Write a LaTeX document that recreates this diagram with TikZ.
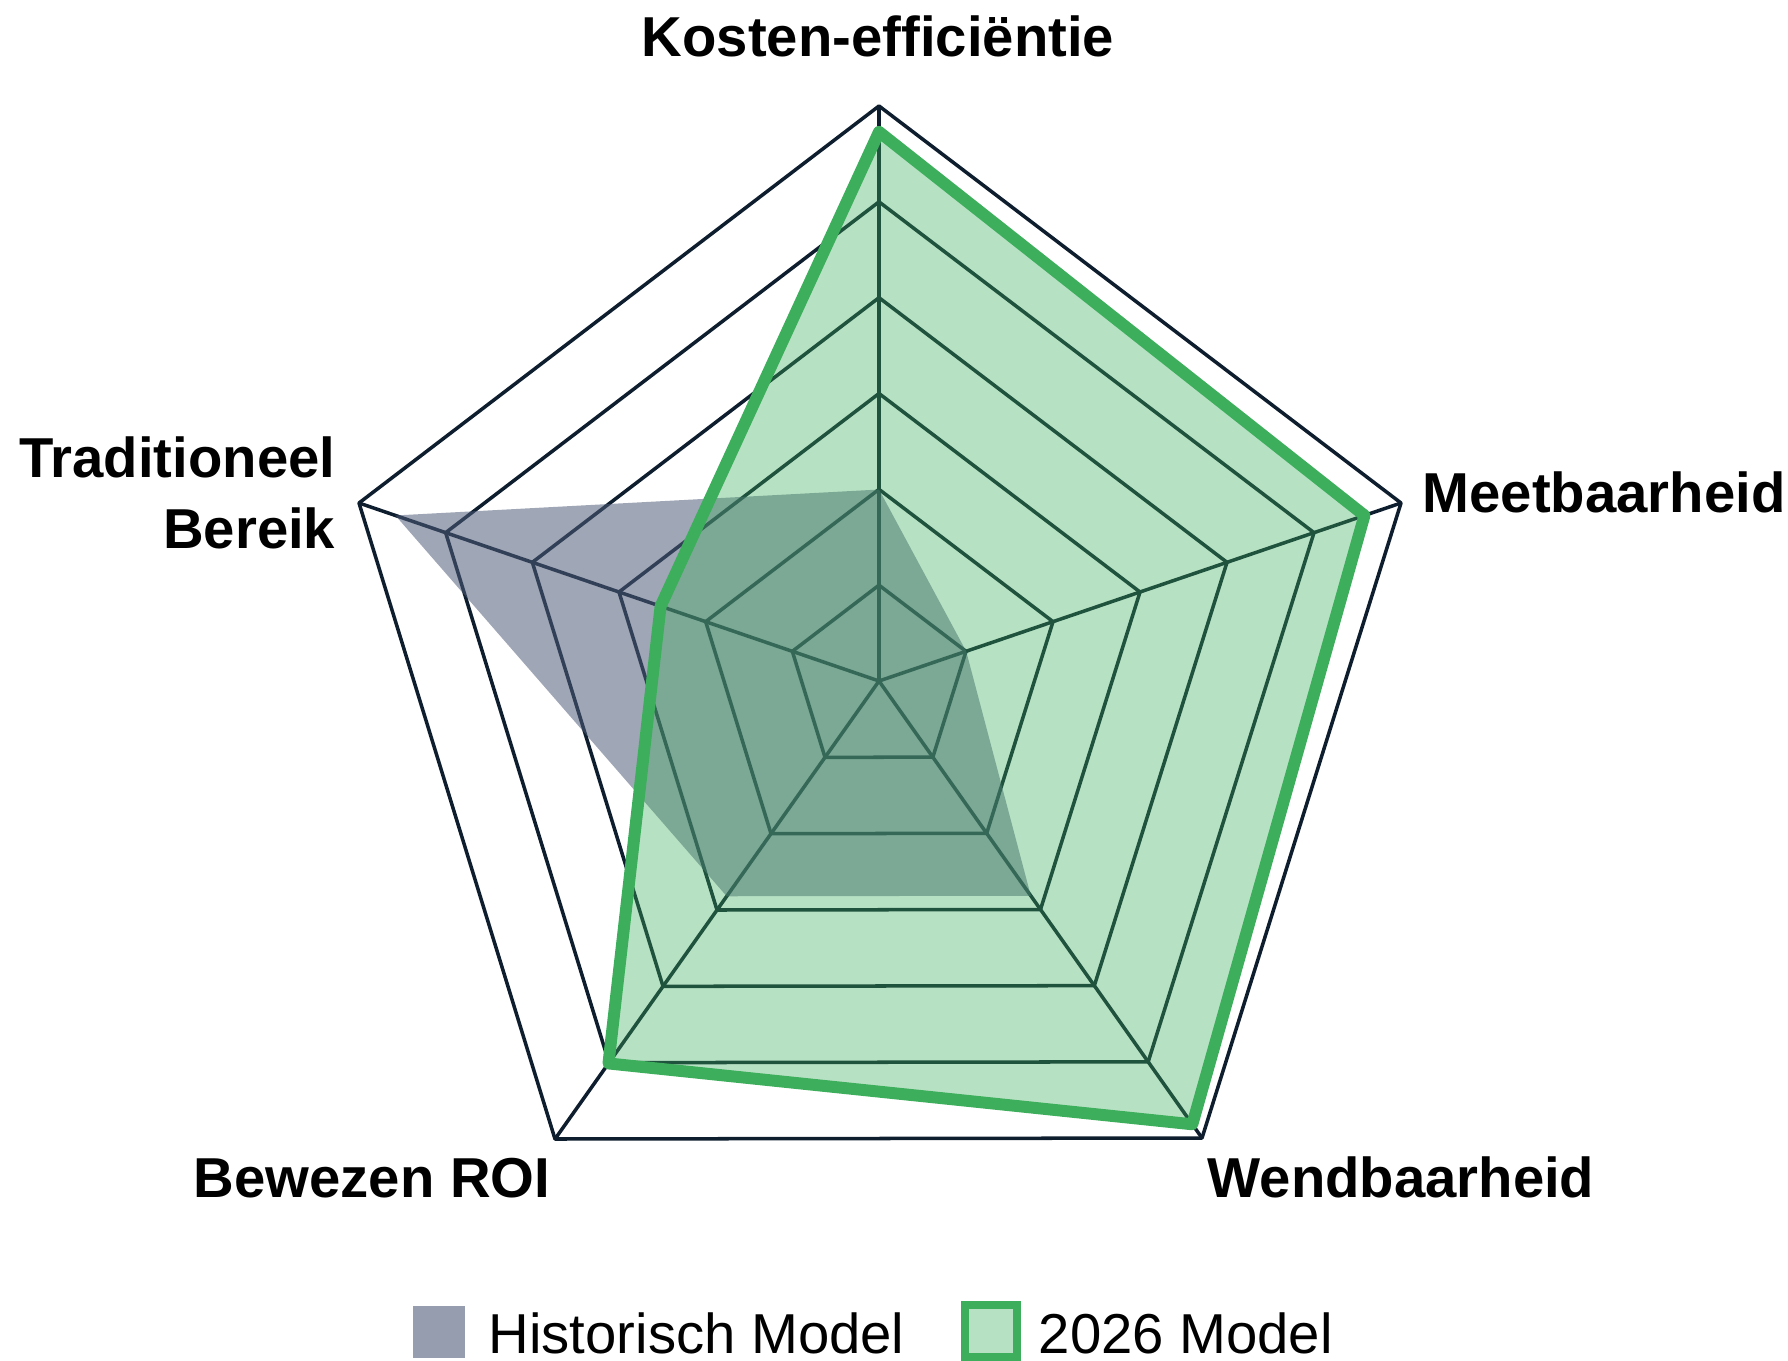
\documentclass[tikz,border=0pt]{standalone}
\usepackage{fontspec}
\setmainfont{Liberation Sans}
\usetikzlibrary{calc}

\definecolor{gridline}{HTML}{0E1E2E}
\definecolor{histfill}{HTML}{505C7A}
\definecolor{newgreen}{HTML}{3DAE5C}

\tikzset{
	axislabel/.style={font=\bfseries\fontsize{16}{20}\selectfont, inner sep=0pt},
	legendtext/.style={font=\fontsize{16}{20}\selectfont, inner sep=0pt},
	gridring/.style={draw=gridline, line width=1pt, line join=round},
	histarea/.style={fill=histfill, fill opacity=0.55},
	newarea/.style={fill=newgreen, fill opacity=0.37, draw=newgreen, line width=3.4pt, line join=round},
}

\begin{document}
\begin{tikzpicture}[x=0.01cm,y=-0.01cm]
	\useasboundingbox (0,0) rectangle (1788,1361);

	\coordinate (o) at (879,681);
	\coordinate (k) at (879,106);
	\coordinate (m) at (1401,503);
	\coordinate (w) at (1202,1138);
	\coordinate (r) at (555,1139);
	\coordinate (t) at (359,503);

	% grid
	\foreach \i in {1,...,6}
		\draw[gridring] ($(o)!\i/6!(k)$) -- ($(o)!\i/6!(m)$) -- ($(o)!\i/6!(w)$)
			-- ($(o)!\i/6!(r)$) -- ($(o)!\i/6!(t)$) -- cycle;
	\foreach \p in {k,m,w,r,t}
		\draw[gridring] (o) -- (\p);

	% historisch model
	\fill[histarea] ($(o)!0.333!(k)$) -- ($(o)!0.167!(m)$) -- ($(o)!0.47!(w)$)
		-- ($(o)!0.47!(r)$) -- ($(o)!0.93!(t)$) -- cycle;

	% 2026 model
	\filldraw[newarea] ($(o)!0.955!(k)$) -- ($(o)!0.93!(m)$) -- ($(o)!0.97!(w)$)
		-- ($(o)!0.835!(r)$) -- ($(o)!0.42!(t)$) -- cycle;

	\node[axislabel, anchor=base] (kosten) at (878,57) {Kosten-efficiëntie};
	\node[axislabel, anchor=base west] (meet) at (1422,512) {Meetbaarheid};
	\node[axislabel, anchor=base] (wend) at (1401,1197) {Wendbaarheid};
	\node[axislabel, anchor=base] (roi) at (372,1197) {Bewezen ROI};
	\node[axislabel, anchor=base east] (trad) at (336,478) {Traditioneel};
	\node[axislabel, anchor=base east] (bereik) at (336,548) {Bereik};

	% legenda
	\node[fill=histfill, fill opacity=0.6, minimum size=0.52cm, inner sep=0pt] (histsq) at (439,1332) {};
	\node[legendtext, anchor=base west] (histlbl) at (488,1353) {Historisch Model};
	\node[fill=newgreen, fill opacity=0.37, draw=newgreen, draw opacity=1, line width=2.4pt,
		minimum size=0.52cm, inner sep=0pt] (newsq) at (991,1331) {};
	\node[legendtext, anchor=base west] (newlbl) at (1038,1353) {2026 Model};
\end{tikzpicture}
\end{document}
